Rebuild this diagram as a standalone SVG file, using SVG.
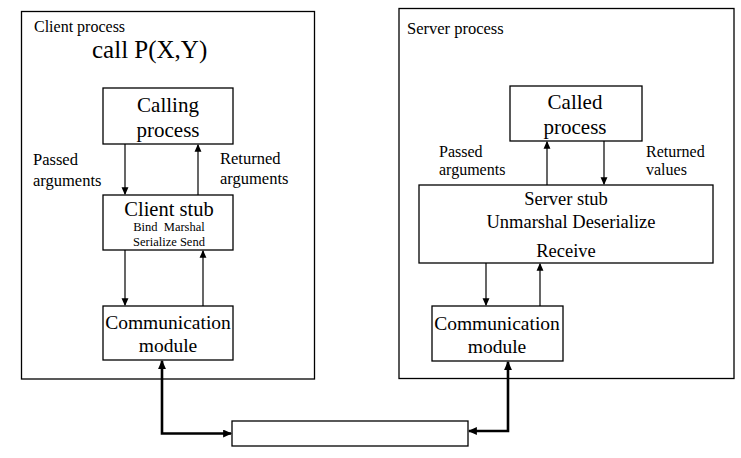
<svg xmlns="http://www.w3.org/2000/svg" width="741" height="458" viewBox="0 0 741 458">
<style>
text{font-family:"Liberation Serif","Times New Roman",serif;fill:#000}
.box{fill:#fff;stroke:#000;stroke-width:1.3}
.c{text-anchor:middle}
.ln{stroke:#000;stroke-width:1.2;fill:none;marker-end:url(#ah)}
.thick{stroke:#000;stroke-width:2.6;fill:none;marker-start:url(#ahb);marker-end:url(#ahb)}
</style>
<defs>
<marker id="ah" markerWidth="8" markerHeight="8" refX="6" refY="3" orient="auto" markerUnits="userSpaceOnUse" viewBox="0 0 7 6">
<path d="M0,0 L7,3 L0,6 z" fill="#000"/>
</marker>
<marker id="ahb" markerWidth="9" markerHeight="8" refX="7" refY="3.5" orient="auto-start-reverse" markerUnits="userSpaceOnUse" viewBox="0 0 8 7">
<path d="M0,0 L8,3.5 L0,7 z" fill="#000"/>
</marker>
</defs>
<rect width="741" height="458" fill="#fff"/>
<g id="client-process">
<rect class="box" x="21.5" y="11.5" width="293" height="367.5"/>
<text x="34" y="32" font-size="16">Client process</text>
<text x="92" y="58" font-size="25">call P(X,Y)</text>
</g>
<g id="server-process">
<rect class="box" x="399" y="8.5" width="335" height="370"/>
<text x="407" y="34" font-size="16.5">Server process</text>
</g>
<g id="calling-process">
<rect class="box" x="103" y="88" width="130" height="56"/>
<text class="c" x="168" y="112" font-size="21">Calling</text>
<text class="c" x="168" y="137" font-size="21">process</text>
</g>
<g id="client-stub">
<rect class="box" x="103" y="195" width="130" height="55"/>
<text class="c" x="169" y="216" font-size="20.5">Client stub</text>
<text class="c" x="169" y="231" font-size="12.5" xml:space="preserve">Bind  Marshal</text>
<text class="c" x="169" y="246" font-size="12.5">Serialize Send</text>
</g>
<g id="client-comm">
<rect class="box" x="103" y="306" width="130" height="54"/>
<text class="c" x="168" y="329" font-size="19.5">Communication</text>
<text class="c" x="168" y="352" font-size="19.5">module</text>
</g>
<g id="called-process">
<rect class="box" x="510" y="86" width="132" height="55"/>
<text class="c" x="575" y="109" font-size="21">Called</text>
<text class="c" x="575" y="134" font-size="21">process</text>
</g>
<g id="server-stub">
<rect class="box" x="419" y="185" width="294" height="78"/>
<text class="c" x="566" y="205" font-size="18.5">Server stub</text>
<text class="c" x="571" y="228" font-size="18.5">Unmarshal Deserialize</text>
<text class="c" x="566" y="257" font-size="18.5">Receive</text>
</g>
<g id="server-comm">
<rect class="box" x="432" y="306" width="131" height="55"/>
<text class="c" x="497" y="330" font-size="19.5">Communication</text>
<text class="c" x="497" y="353" font-size="19.5">module</text>
</g>
<g id="network">
<rect class="box" x="232" y="421" width="236" height="25"/>
</g>
<g id="labels">
<text x="33" y="165" font-size="16.5">Passed</text>
<text x="33" y="186" font-size="16.5">arguments</text>
<text x="220" y="164" font-size="16.5">Returned</text>
<text x="220" y="184" font-size="16.5">arguments</text>
<text x="439" y="157" font-size="16">Passed</text>
<text x="439" y="175" font-size="16">arguments</text>
<text x="646" y="157" font-size="16">Returned</text>
<text x="646" y="175" font-size="16">values</text>
</g>
<g id="connectors">
<path class="ln" d="M125,144 V194"/>
<path class="ln" d="M198,195 V145"/>
<path class="ln" d="M125,250 V305"/>
<path class="ln" d="M203,306 V251"/>
<path class="ln" d="M547,185 V142"/>
<path class="ln" d="M604,141 V184"/>
<path class="ln" d="M486,263 V305"/>
<path class="ln" d="M540,306 V264"/>
<path class="thick" d="M231,433.5 H162 V361"/>
<path class="thick" d="M469,431 H508 V362"/>
</g>
</svg>
